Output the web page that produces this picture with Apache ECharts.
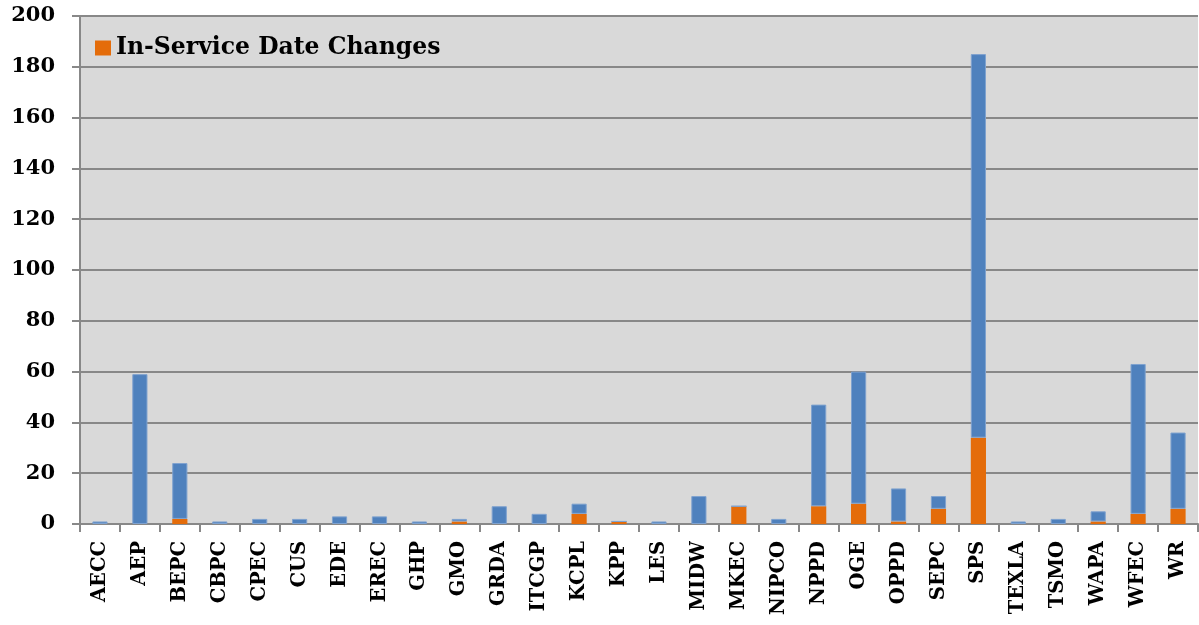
<!DOCTYPE html>
<html>
<head>
<meta charset="utf-8">
<script src="https://cdn.jsdelivr.net/npm/echarts@6/dist/echarts.min.js"></script>
<style>
  html, body { margin: 0; padding: 0; background: #fff; }
  #chart { width: 1199px; height: 625px; }
</style>
</head>
<body>
<div id="chart"></div>
<script>
var categories = ['AECC', 'AEP', 'BEPC', 'CBPC', 'CPEC', 'CUS', 'EDE', 'EREC', 'GHP', 'GMO',
  'GRDA', 'ITCGP', 'KCPL', 'KPP', 'LES', 'MIDW', 'MKEC', 'NIPCO', 'NPPD', 'OGE',
  'OPPD', 'SEPC', 'SPS', 'TEXLA', 'TSMO', 'WAPA', 'WFEC', 'WR'];
// orange part (bottom of the stack)
var dateChanges = [0, 0, 2, 0, 0, 0, 0, 0, 0, 1,
  0, 0, 4, 1, 0, 0, 7, 0, 7, 8,
  1, 6, 34, 0, 0, 1, 4, 6];
// blue part stacked on top
var otherChanges = [1, 59, 22, 1, 2, 2, 3, 3, 1, 1,
  7, 4, 4, 0, 1, 11, 0, 2, 40, 52,
  13, 5, 151, 1, 2, 4, 59, 30];

var font = '"DejaVu Serif", serif';
var myChart = echarts.init(document.getElementById('chart'));

var option = {
  animation: false,
  backgroundColor: '#ffffff',
  textStyle: { fontFamily: font },
  legend: {
    data: ['In-Service Date Changes'],
    left: 90,
    top: 31,
    itemWidth: 16,
    itemHeight: 15,
    icon: 'rect',
    textStyle: { fontFamily: font, fontWeight: 'bold', fontSize: 23.5, color: '#000' }
  },
  grid: {
    left: 80,
    right: 1,
    top: 16,
    bottom: 101,
    show: true,
    backgroundColor: '#d9d9d9',
    borderWidth: 0
  },
  xAxis: {
    type: 'category',
    data: categories,
    axisLine: { lineStyle: { color: '#888888', width: 2 } },
    axisTick: { show: true, length: 8, lineStyle: { color: '#888888', width: 2 } },
    axisLabel: {
      rotate: 90,
      interval: 0,
      margin: 17,
      color: '#000',
      fontFamily: font,
      fontWeight: 'bold',
      fontSize: 19.5
    }
  },
  yAxis: {
    type: 'value',
    min: 0,
    max: 200,
    interval: 20,
    axisLine: { show: true, lineStyle: { color: '#888888', width: 2 } },
    axisTick: { show: true, length: 8, lineStyle: { color: '#888888', width: 2 } },
    splitLine: { lineStyle: { color: '#888888', width: 2 } },
    axisLabel: {
      margin: 25,
      color: '#000',
      fontFamily: font,
      fontWeight: 'bold',
      fontSize: 21
    }
  },
  series: [{
    name: 'In-Service Date Changes',
    type: 'bar',
    stack: 'total',
    barWidth: '38%',
    itemStyle: { color: '#e46c0a' },
    data: dateChanges
  }, {
    name: 'Other',
    type: 'bar',
    stack: 'total',
    barWidth: '38%',
    itemStyle: { color: '#4f81bd', borderColor: '#7fa2cf', borderWidth: 1 },
    data: otherChanges
  }]
};

myChart.setOption(option);
</script>
</body>
</html>
